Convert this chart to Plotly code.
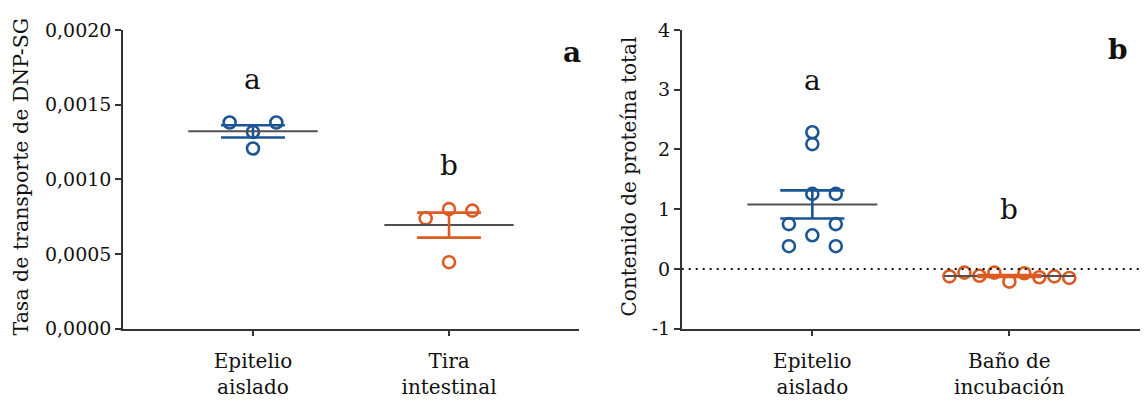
import numpy as np
import plotly.graph_objects as go

# ---------------- data ----------------
cats_a = ["Epitelio<br>aislado", "Tira<br>intestinal"]
cats_b = ["Epitelio<br>aislado", "Baño de<br>incubación"]

epi_a_vals = [0.00138, 0.00138, 0.001317, 0.001206]
tira_vals = [0.000738, 0.000800, 0.000790, 0.000445]

epi_b_vals = [2.287, 2.089, 1.255, 1.255, 0.750, 0.750, 0.5625, 0.380, 0.380]
bano_vals = [-0.125, -0.0625, -0.115, -0.0625, -0.2135, -0.073, -0.140, -0.125, -0.151]

yticks_a = [0.0, 0.0005, 0.0010, 0.0015, 0.0020]
yticklabels_a = ["0,0000", "0,0005", "0,0010", "0,0015", "0,0020"]
yticks_b = [-1, 0, 1, 2, 3, 4]
yticklabels_b = ["-1", "0", "1", "2", "3", "4"]

sig_a = ["a", "b"]
sig_b = ["a", "b"]

# horizontal scatter offsets of the points (layout of the dot plot)
epi_a_jit = [-0.119, 0.119, 0.0, 0.0]
tira_jit = [-0.119, 0.0, 0.119, 0.0]
epi_b_jit = [0.0, 0.0, 0.0, 0.119, -0.119, 0.119, 0.0, -0.119, 0.119]
bano_jit = [-0.304, -0.228, -0.152, -0.076, 0.0, 0.076, 0.152, 0.228, 0.304]

# ---------------- style ----------------
BLUE = "#1c5594"
ORANGE = "#dc5b22"
GRAY = "#505050"
AX = "#333333"
TXT = "#111111"
FONT = "DejaVu Serif"

fig = go.Figure()


def add_group(xc, vals, jit, color, xa, ya):
    vals = np.asarray(vals, dtype=float)
    xs = [xc + j for j in jit]
    fig.add_trace(go.Scatter(
        x=xs, y=vals, mode="markers", xaxis=xa, yaxis=ya,
        marker=dict(symbol="circle-open", size=12, color=color,
                    line=dict(width=2.6, color=color)),
        showlegend=False, hoverinfo="skip"))
    m = vals.mean()
    sem = vals.std(ddof=1) / np.sqrt(len(vals))
    # mean line
    fig.add_trace(go.Scatter(
        x=[xc - 0.33, xc + 0.33], y=[m, m], mode="lines", xaxis=xa, yaxis=ya,
        line=dict(color=GRAY, width=2), showlegend=False, hoverinfo="skip"))
    # SEM bars
    cw = 0.163
    fig.add_trace(go.Scatter(
        x=[xc - cw, xc + cw, None, xc - cw, xc + cw, None, xc, xc],
        y=[m + sem, m + sem, None, m - sem, m - sem, None, m + sem, m - sem],
        mode="lines", xaxis=xa, yaxis=ya,
        line=dict(color=color, width=2.6), showlegend=False, hoverinfo="skip"))


add_group(0, epi_a_vals, epi_a_jit, BLUE, "x", "y")
add_group(1, tira_vals, tira_jit, ORANGE, "x", "y")
add_group(0, epi_b_vals, epi_b_jit, BLUE, "x2", "y2")
add_group(1, bano_vals, bano_jit, ORANGE, "x2", "y2")

W, H = 1146, 403
y_dom = [1 - 336 / H, 1 - 20 / H]

axis_common = dict(showline=True, linecolor=AX, linewidth=1.5, ticks="outside",
                   ticklen=6, tickwidth=1.5, tickcolor=AX, showgrid=False,
                   zeroline=False, tickfont=dict(family=FONT, size=19, color=TXT))
xaxis_extra = dict(tickfont=dict(family=FONT, size=20, color=TXT), ticklabelstandoff=8)

fig.update_layout(
    width=W, height=H, margin=dict(l=0, r=0, t=0, b=0),
    paper_bgcolor="white", plot_bgcolor="white",
    font=dict(family=FONT, size=19, color=TXT),
    xaxis=dict(domain=[123 / W, 579 / W], range=[-0.663, 1.663],
               tickvals=[0, 1], ticktext=cats_a, anchor="y",
               **{**axis_common, **xaxis_extra}),
    yaxis=dict(domain=y_dom, range=[0, 0.0020], tickvals=yticks_a,
               ticktext=yticklabels_a, anchor="x", **axis_common),
    xaxis2=dict(domain=[681.7 / W, 1140 / W], range=[-0.663, 1.663],
                tickvals=[0, 1], ticktext=cats_b, anchor="y2",
                **{**axis_common, **xaxis_extra}),
    yaxis2=dict(domain=y_dom, range=[-1, 4], tickvals=yticks_b,
                ticktext=yticklabels_b, anchor="x2", **axis_common),
)

# dotted zero line in panel b
fig.add_shape(type="line", xref="x2 domain", yref="y2", x0=0, x1=1, y0=0, y1=0,
              line=dict(color="#111", width=2, dash="2px,5px"))

ann = []
# axis titles
ann.append(dict(text="Tasa de transporte de DNP-SG", xref="paper", yref="paper",
                x=21 / W, y=1 - 175 / H, textangle=-90, showarrow=False,
                xanchor="center", yanchor="middle", font=dict(family=FONT, size=20.5, color=TXT)))
ann.append(dict(text="Contenido de proteína total", xref="paper", yref="paper",
                x=629 / W, y=1 - 175 / H, textangle=-90, showarrow=False,
                xanchor="center", yanchor="middle", font=dict(family=FONT, size=20, color=TXT)))
# significance letters
for xc, yv, t in zip([0, 1], [0.001665, 0.001089], sig_a):
    ann.append(dict(text=t, x=xc, y=yv, xref="x", yref="y", showarrow=False,
                    font=dict(family=FONT, size=28, color=TXT)))
for xc, yv, t in zip([0, 1], [3.146, 0.997], sig_b):
    ann.append(dict(text=t, x=xc, y=yv, xref="x2", yref="y2", showarrow=False,
                    font=dict(family=FONT, size=28, color=TXT)))
# panel letters
ann.append(dict(text="<b>a</b>", xref="paper", yref="paper", x=572 / W, y=1 - 24 / H,
                showarrow=False, font=dict(family=FONT, size=28, color=TXT)))
ann.append(dict(text="<b>b</b>", xref="paper", yref="paper", x=1130 / W, y=1 - 21 / H,
                showarrow=False, font=dict(family=FONT, size=28, color=TXT)))
fig.update_layout(annotations=ann)

fig.write_html("out.html")
